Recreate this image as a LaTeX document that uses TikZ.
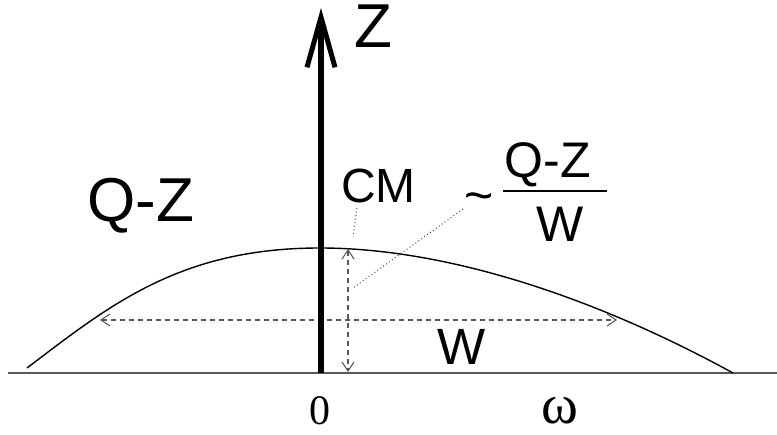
\documentclass[tikz,border=0pt]{standalone}
\usepackage{fontspec}
\setmainfont{Liberation Sans}
\newfontfamily\timesfont{Liberation Serif}
\usetikzlibrary{arrows.meta}

\tikzset{
  txt/.style={inner sep=0pt, font=\fontsize{#1}{#1}\selectfont},
  baseaxis/.style={draw=black!65, line width=1.5pt},
  curve/.style={draw=black, line width=1.4pt},
  measure/.style={draw=black!65, line width=1.1pt, dash pattern=on 5pt off 4pt,
    {Straight Barb[length=9pt,width=12pt,line width=1.1pt]}-{Straight Barb[length=9pt,width=12pt,line width=1.1pt]}},
  pointer/.style={draw=black!70, line width=1pt, dash pattern=on 1pt off 2.6pt},
}

\begin{document}
\begin{tikzpicture}[x=1pt, y=-1pt, line join=round]
  \useasboundingbox (0,0) rectangle (777,435);

  % frequency axis
  \draw[baseaxis] (8,373) -- (777,373);

  % spectrum
  \draw[curve] (27,368) .. controls (110,305) and (180,248) .. (320,248)
    .. controls (450,248) and (600,300) .. (733,373);

  % widths
  \coordinate (wl) at (100,320);
  \coordinate (wr) at (617,320);
  \coordinate (ht) at (348,249);
  \coordinate (hb) at (348,372);
  \draw[measure] (wl) -- (wr);
  \draw[measure] (ht) -- (hb);

  % Z axis
  \coordinate (origin) at (321,373);
  \coordinate (top) at (321,8);
  \draw[line width=6pt, -{Straight Barb[length=50pt,width=28pt,line width=5pt]}] (origin) -- (top);

  % labels
  \node[txt=62, anchor=base west] (zlabel) at (354,48) {Z};
  \node[txt=62, anchor=base west] (qz) at (87,222) {Q-Z};
  \node[txt=48, anchor=base west] (cm) at (341,203) {CM};
  \node[txt=50, anchor=base] (tilde) at (479,213) {\textasciitilde};
  \node[txt=50, anchor=base] (num) at (548,178) {Q-Z};
  \node[txt=50, anchor=base] (den) at (560,242) {W};
  \draw[line width=1.5pt] (503,191) -- (607,191);
  \node[txt=51, anchor=base west] (wlabel) at (437,365) {W};
  \node[txt=42, anchor=base, font=\timesfont\fontsize{42}{42}\selectfont] (zero) at (320,425) {0};
  \node[txt=56, anchor=base, font=\timesfont\fontsize{56}{56}\selectfont] (omega) at (560,424) {ω};

  % pointers
  \coordinate (cmfoot) at (357,208);
  \coordinate (cmend) at (353,237);
  \coordinate (tfoot) at (463,209);
  \coordinate (tend) at (353,288);
  \draw[pointer] (cmfoot) -- (cmend);
  \draw[pointer] (tfoot) -- (tend);
\end{tikzpicture}
\end{document}
